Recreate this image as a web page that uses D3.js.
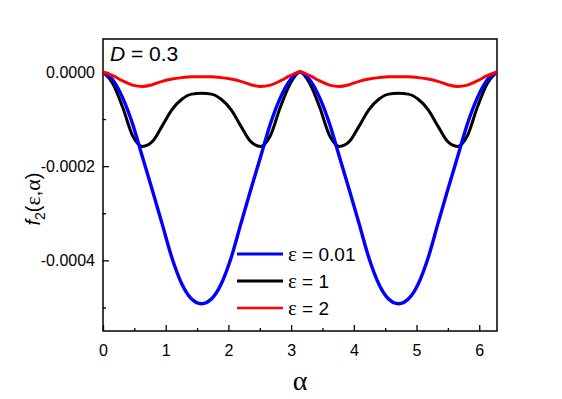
<!DOCTYPE html>
<html>
<head>
<meta charset="utf-8">
<script src="https://cdn.jsdelivr.net/npm/d3@7"></script>
<style>
  body { margin: 0; background: #fff; }
  text { font-family: Arial, "Liberation Sans", sans-serif; }
  .greek { font-family: "Liberation Serif", "DejaVu Serif", serif; }
</style>
</head>
<body>
<div id="chart"></div>
<script>
// alpha sample points (radians), read along the x axis
const alpha = [0, 0.157, 0.314, 0.471, 0.628, 0.785, 0.942, 1.100, 1.257, 1.414,
  1.571, 1.728, 1.885, 2.042, 2.199, 2.356, 2.513, 2.670, 2.827, 2.985,
  3.142, 3.299, 3.456, 3.613, 3.770, 3.927, 4.084, 4.241, 4.398, 4.555,
  4.712, 4.869, 5.027, 5.184, 5.341, 5.498, 5.655, 5.812, 5.969, 6.126, 6.283];

// f2 values in units of 1e-4
const eps001 = [0, -0.17, -0.55, -1.1, -1.8, -2.5, -3.22, -3.95, -4.5, -4.82,
  -4.92, -4.82, -4.5, -3.95, -3.22, -2.5, -1.8, -1.1, -0.55, -0.17,
  0, -0.17, -0.55, -1.1, -1.8, -2.5, -3.22, -3.95, -4.5, -4.82,
  -4.92, -4.82, -4.5, -3.95, -3.22, -2.5, -1.8, -1.1, -0.55, -0.17, 0];
const eps1 = [0, -0.25, -0.75, -1.35, -1.58, -1.48, -1.15, -0.8, -0.58, -0.47,
  -0.45, -0.47, -0.58, -0.8, -1.15, -1.48, -1.58, -1.35, -0.75, -0.25,
  0, -0.25, -0.75, -1.35, -1.58, -1.48, -1.15, -0.8, -0.58, -0.47,
  -0.45, -0.47, -0.58, -0.8, -1.15, -1.48, -1.58, -1.35, -0.75, -0.25, 0];
const eps2 = [0, -0.08, -0.19, -0.28, -0.31, -0.27, -0.2, -0.15, -0.12, -0.1,
  -0.1, -0.1, -0.12, -0.15, -0.2, -0.27, -0.31, -0.28, -0.19, -0.08,
  0, -0.08, -0.19, -0.28, -0.31, -0.27, -0.2, -0.15, -0.12, -0.1,
  -0.1, -0.1, -0.12, -0.15, -0.2, -0.27, -0.31, -0.28, -0.19, -0.08, 0];

const xTicks = [0, 1, 2, 3, 4, 5, 6];
const xMinor = [0.5, 1.5, 2.5, 3.5, 4.5, 5.5];
const yTicks = [0, -0.0002, -0.0004];
const yMinor = [-0.0001, -0.0003, -0.0005];

const series = [
  { eps: '1', values: eps1, color: '#000000', width: 3 },
  { eps: '0.01', values: eps001, color: '#0000ff', width: 3.4 },
  { eps: '2', values: eps2, color: '#ff0000', width: 3 }
];
const legendOrder = [1, 0, 2];

const width = 562, height = 399;
const margin = { top: 39, right: 65, bottom: 68, left: 103 };

const svg = d3.select('#chart').append('svg')
  .attr('width', width)
  .attr('height', height);

const x = d3.scaleLinear().domain([0, 2 * Math.PI])
  .range([margin.left, width - margin.right]);
const y = d3.scaleLinear().domain([-0.00055, 0.00007])
  .range([height - margin.bottom, margin.top]);

// axes with inward ticks
svg.append('g')
  .attr('transform', `translate(0,${height - margin.bottom})`)
  .call(d3.axisBottom(x).tickValues(xTicks).tickSize(-6).tickPadding(14).tickFormat(d3.format('d')));
svg.append('g')
  .attr('transform', `translate(0,${height - margin.bottom})`)
  .call(d3.axisBottom(x).tickValues(xMinor).tickSize(-3).tickFormat(''));

const yAxis = svg.append('g')
  .attr('transform', `translate(${margin.left},0)`)
  .call(d3.axisLeft(y).tickValues(yTicks).tickSize(-6).tickPadding(8));
svg.append('g')
  .attr('transform', `translate(${margin.left},0)`)
  .call(d3.axisLeft(y).tickValues(yMinor).tickSize(-3).tickFormat(''));

svg.selectAll('.tick text')
  .attr('font-size', 16)
  .attr('fill', '#000');
svg.selectAll('.tick line').attr('stroke', '#000').attr('stroke-width', 1.3);
yAxis.selectAll('.tick text').text(d => d === 0 ? '0.0000' : '-' + d3.format('.4f')(-d));

// frame
svg.selectAll('.domain').remove();
svg.append('rect')
  .attr('x', margin.left)
  .attr('y', margin.top)
  .attr('width', width - margin.left - margin.right)
  .attr('height', height - margin.top - margin.bottom)
  .attr('fill', 'none')
  .attr('stroke', '#000')
  .attr('stroke-width', 1.5);

// curves
const line = d3.line()
  .x((d, i) => x(alpha[i]))
  .y(d => y(d * 1e-4))
  .curve(d3.curveMonotoneX);

svg.append('g')
  .selectAll('path')
  .data(series)
  .enter()
  .append('path')
  .attr('d', d => line(d.values))
  .attr('fill', 'none')
  .attr('stroke', d => d.color)
  .attr('stroke-width', d => d.width)
  .attr('stroke-linejoin', 'round');

// legend
const legend = svg.append('g').attr('transform', 'translate(237,254)');
legendOrder.forEach((si, i) => {
  const s = series[si];
  const g = legend.append('g').attr('transform', `translate(0,${i * 27})`);
  g.append('line')
    .attr('x1', 0).attr('x2', 46)
    .attr('stroke', s.color)
    .attr('stroke-width', si === 2 ? 2.4 : 3);
  const t = g.append('text')
    .attr('x', 51).attr('y', 7)
    .attr('font-size', 19);
  t.append('tspan').attr('class', 'greek').attr('font-size', 21).text('ε');
  t.append('tspan').text(' = ' + s.eps);
});

// annotation
const ann = svg.append('text')
  .attr('x', 110).attr('y', 61)
  .attr('font-size', 21);
ann.append('tspan').attr('font-style', 'italic').text('D');
ann.append('tspan').text(' = 0.3');

// axis titles
svg.append('text')
  .attr('class', 'greek')
  .attr('x', x(Math.PI)).attr('y', 390)
  .attr('text-anchor', 'middle')
  .attr('font-size', 28)
  .text('α');

const yTitle = svg.append('text')
  .attr('transform', 'translate(40,199) rotate(-90)')
  .attr('text-anchor', 'middle')
  .attr('font-size', 20);
yTitle.append('tspan').attr('font-style', 'italic').text('f');
yTitle.append('tspan').attr('font-size', 14).attr('dy', 5).text('2');
yTitle.append('tspan').attr('dy', -5).text('(');
yTitle.append('tspan').attr('class', 'greek').attr('font-size', 22).text('ε');
yTitle.append('tspan').text(',');
yTitle.append('tspan').attr('class', 'greek').attr('font-size', 22).text('α');
yTitle.append('tspan').text(')');
</script>
</body>
</html>
